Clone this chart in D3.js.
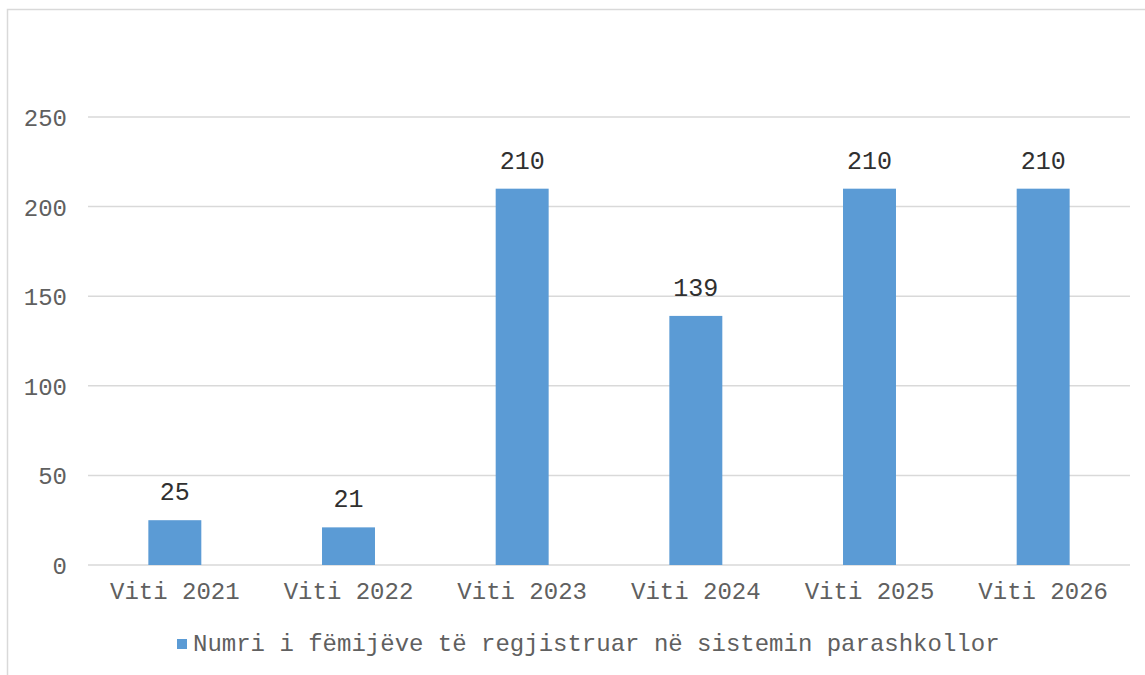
<!DOCTYPE html>
<html><head><meta charset="utf-8">
<script src="https://cdn.jsdelivr.net/npm/d3@7"></script>
<style>body{margin:0;background:#fff}svg{display:block}</style>
</head><body>
<script>
const categories = ["Viti 2021","Viti 2022","Viti 2023","Viti 2024","Viti 2025","Viti 2026"];
const values = [25, 21, 210, 139, 210, 210];
const yTicks = [0, 50, 100, 150, 200, 250];
const seriesName = "Numri i fëmijëve të regjistruar në sistemin parashkollor";

(function () {
const W = 1145, H = 675;
const font = "'Liberation Mono','Courier New',monospace";
const svg = d3.select("body").append("svg").attr("width", W).attr("height", H);

svg.append("rect").attr("x", 7.5).attr("y", 9.5).attr("width", W + 10).attr("height", H + 10)
  .attr("fill", "#fff").attr("stroke", "#D9D9D9").attr("stroke-width", 1.5);

const pl = 88, pr = 1130, pt = 117, pb = 565;
const x = d3.scaleBand().domain(categories).range([pl, pr]).padding(0);
const y = d3.scaleLinear().domain([0, 250]).range([pb, pt]);

// gridlines
svg.append("g").selectAll("line").data(yTicks).join("line")
  .attr("x1", pl).attr("x2", pr)
  .attr("y1", d => y(d)).attr("y2", d => y(d))
  .attr("stroke", "#D9D9D9").attr("stroke-width", 1.5);

// y axis labels
const yAxis = d3.axisLeft(y).tickValues(yTicks).tickSize(0).tickPadding(21);
const gy = svg.append("g").attr("transform", `translate(${pl},0)`).call(yAxis);
gy.select(".domain").remove();
gy.selectAll("text").attr("font-family", font).attr("font-size", 24).attr("fill", "#606060")
  .attr("dy", "0.35em");

// bars
const bw = x.bandwidth() * 0.305;
svg.append("g").selectAll("rect").data(values).join("rect")
  .attr("x", (d, i) => x(categories[i]) + x.bandwidth() / 2 - bw / 2)
  .attr("y", d => y(d))
  .attr("width", bw)
  .attr("height", d => y(0) - y(d))
  .attr("fill", "#5B9BD5");

// value labels
svg.append("g").selectAll("text").data(values).join("text")
  .attr("x", (d, i) => x(categories[i]) + x.bandwidth() / 2)
  .attr("y", d => y(d) - 20)
  .attr("text-anchor", "middle")
  .attr("font-family", font).attr("font-size", 25).attr("fill", "#303030")
  .text(d => d);

// x axis labels
const xAxis = d3.axisBottom(x).tickSize(0).tickPadding(17);
const gx = svg.append("g").attr("transform", `translate(0,${pb})`).call(xAxis);
gx.select(".domain").remove();
gx.selectAll("text").attr("font-family", font).attr("font-size", 24).attr("fill", "#606060");

// legend
const lg = svg.append("g");
lg.append("rect").attr("x", 177).attr("y", 639).attr("width", 10).attr("height", 10).attr("fill", "#5B9BD5");
lg.append("text").attr("x", 193).attr("y", 651)
  .attr("font-family", font).attr("font-size", 24).attr("fill", "#606060")
  .text(seriesName);
})();
</script>
</body></html>
